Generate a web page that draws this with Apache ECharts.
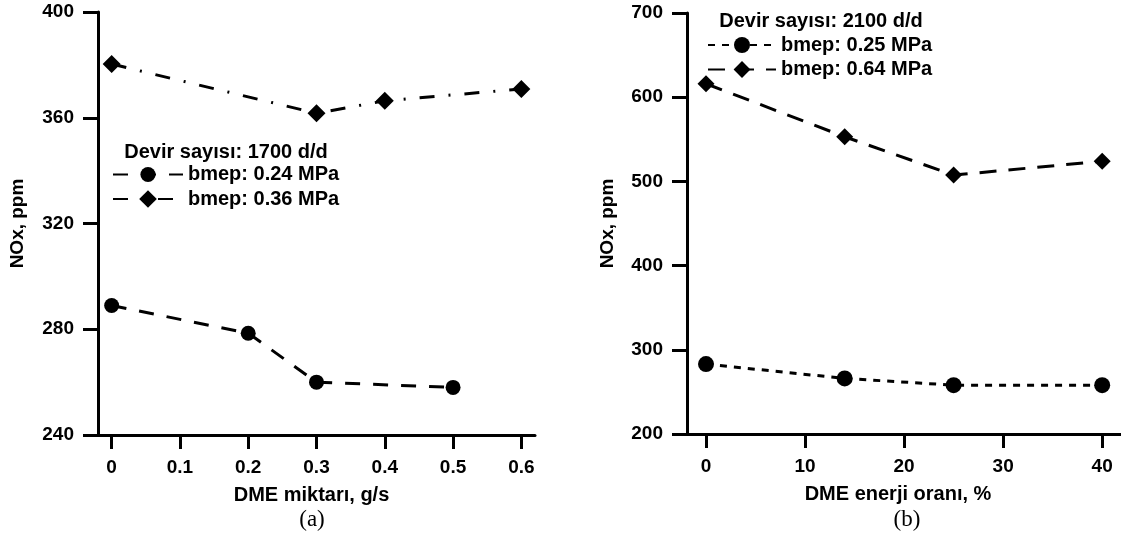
<!DOCTYPE html>
<html>
<head>
<meta charset="utf-8">
<script src="https://cdn.jsdelivr.net/npm/echarts@6/dist/echarts.min.js"></script>
<style>
html,body{margin:0;padding:0;background:#fff;}
#chart{width:1121px;height:542px;}
</style>
</head>
<body>
<div id="chart"></div>
<script>
// ---- Data (a): 1700 d/d ----
const xA_low = [0, 0.2, 0.3, 0.5];
const noxA_low = [289, 278.5, 260, 258];
const xA_high = [0, 0.3, 0.4, 0.6];
const noxA_high = [380.3, 361.7, 366.4, 370.9];
const xTicksA = [0, 0.1, 0.2, 0.3, 0.4, 0.5, 0.6];
const nameA_low = 'bmep: 0.24 MPa';
const nameA_high = 'bmep: 0.36 MPa';
const headerA = 'Devir sayısı: 1700 d/d';

// ---- Data (b): 2100 d/d ----
const xB = [0, 14, 25, 40];
const noxB_low = [283, 266, 258, 258];
const noxB_high = [616, 553, 507.5, 524];
const xTicksB = [0, 10, 20, 30, 40];
const nameB_low = 'bmep: 0.25 MPa';
const nameB_high = 'bmep: 0.64 MPa';
const headerB = 'Devir sayısı: 2100 d/d';

const pair = (xs, ys) => xs.map((x, i) => [x, ys[i]]);

const FONT = 'Liberation Sans, Arial, sans-serif';
const black = '#000';
const tickLabel = {fontSize: 19, fontWeight: 'bold', color: black, fontFamily: FONT};
const titleText = {fontSize: 20, fontWeight: 'bold', color: black, fontFamily: FONT};

function xAxisCfg(grid, min, max, ticks, name, pad) {
  return {
    gridIndex: grid, type: 'value', min: min, max: max,
    axisLine: {show: true, onZero: false, lineStyle: {color: black, width: 3}},
    axisTick: {show: true, length: 14, customValues: ticks, lineStyle: {color: black, width: 3}},
    axisLabel: Object.assign({customValues: ticks, margin: 23}, tickLabel),
    splitLine: {show: false},
    name: name, nameLocation: 'middle', nameGap: 50,
    nameTextStyle: Object.assign({padding: pad}, titleText)
  };
}
function yAxisCfg(grid, min, max, interval, gap) {
  return {
    gridIndex: grid, type: 'value', min: min, max: max, interval: interval,
    axisLine: {show: true, onZero: false, lineStyle: {color: black, width: 3}},
    axisTick: {show: true, length: 15, lineStyle: {color: black, width: 3}},
    axisLabel: Object.assign({margin: 24}, tickLabel),
    splitLine: {show: false},
    name: 'NOx, ppm', nameLocation: 'middle', nameGap: gap, nameRotate: 90,
    nameTextStyle: Object.assign({}, titleText, {fontSize: 19})
  };
}
function lineSeries(name, xi, yi, data, symbol, size, dash) {
  return {
    name: name, type: 'line', xAxisIndex: xi, yAxisIndex: yi,
    data: data, symbol: symbol, symbolSize: size, clip: false,
    itemStyle: {color: black},
    lineStyle: {color: black, width: 3, type: dash},
    emphasis: {disabled: true}
  };
}
function legendCfg(name, left, centerY, width, h) {
  return {
    data: [name], orient: 'vertical', left: left, top: centerY - h / 2,
    itemWidth: width, itemHeight: h, padding: 0,
    textStyle: titleText, selectedMode: false
  };
}

const chart = echarts.init(document.getElementById('chart'), null, {renderer: 'canvas'});
chart.setOption({
  backgroundColor: '#fff',
  animation: false,
  grid: [
    {left: 98, right: 586, top: 12, bottom: 107},
    {left: 687, right: 0, top: 13, bottom: 108}
  ],
  xAxis: [
    xAxisCfg(0, -0.02, 0.62, xTicksA, 'DME miktarı, g/s', [0, 10, 0, 0]),
    xAxisCfg(1, -1.92, 41.9, xTicksB, 'DME enerji oranı, %', [0, 12, 0, 0])
  ],
  yAxis: [
    yAxisCfg(0, 240, 400, 40, 71),
    yAxisCfg(1, 200, 700, 100, 70)
  ],
  legend: [
    legendCfg(nameA_low, 112, 174, 70, 19),
    legendCfg(nameA_high, 112, 200, 70, 22),
    legendCfg(nameB_low, 707, 45, 68, 20),
    legendCfg(nameB_high, 707, 70, 68, 21)
  ],
  graphic: [
    {type: 'text', style: {x: 226, y: 152, text: headerA, align: 'center', verticalAlign: 'middle',
      font: 'bold 20px ' + FONT, fill: black}},
    {type: 'text', style: {x: 821, y: 21, text: headerB, align: 'center', verticalAlign: 'middle',
      font: 'bold 20px ' + FONT, fill: black}},
    {type: 'text', style: {x: 312, y: 520, text: '(a)', align: 'center', verticalAlign: 'middle',
      font: '23px Liberation Serif, Times New Roman, serif', fill: black}},
    {type: 'text', style: {x: 907, y: 520, text: '(b)', align: 'center', verticalAlign: 'middle',
      font: '23px Liberation Serif, Times New Roman, serif', fill: black}}
  ],
  series: [
    lineSeries(nameA_low, 0, 0, pair(xA_low, noxA_low), 'circle', 15, [15, 13]),
    lineSeries(nameA_high, 0, 0, pair(xA_high, noxA_high), 'diamond', 18, [15, 14, 2, 14]),
    lineSeries(nameB_low, 1, 1, pair(xB, noxB_low), 'circle', 16, [7, 7]),
    lineSeries(nameB_high, 1, 1, pair(xB, noxB_high), 'diamond', 17, [17, 12])
  ]
});
</script>
</body>
</html>
